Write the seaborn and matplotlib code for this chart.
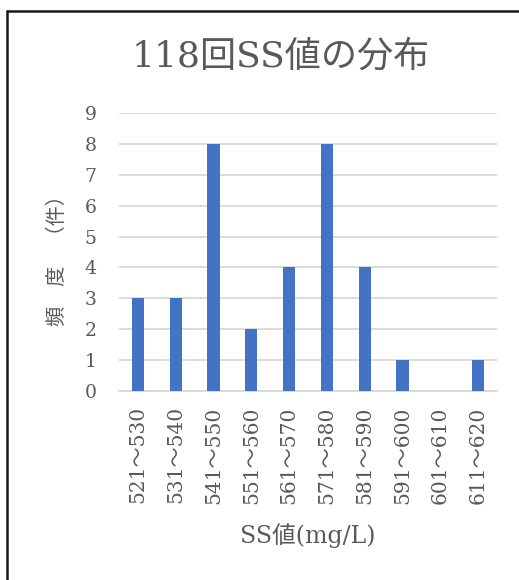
import matplotlib
matplotlib.use("Agg")
import matplotlib.pyplot as plt
from matplotlib.lines import Line2D
import seaborn as sns
import pandas as pd

# SS value ranges (mg/L) and how many samples fell into each
ranges = ["521～530", "531～540", "541～550", "551～560", "561～570",
          "571～580", "581～590", "591～600", "601～610", "611～620"]
counts = [3, 3, 8, 2, 4, 8, 4, 1, 0, 1]
y_ticks = list(range(0, 10))

title = "118回SS値の分布"
x_label = "SS値(mg/L)"
y_label = "頻　度　（件）"

sns.set_theme(style="white")
plt.rcParams["font.family"] = ["DejaVu Serif", "Noto Sans CJK JP"]

text_color = "#595959"
grid_color = "#D9D9D9"
bar_color = "#4472C4"

df = pd.DataFrame({"range": ranges, "count": counts})

fig = plt.figure(figsize=(5.19, 5.80), dpi=100)
ax = fig.add_axes([119 / 519, 1 - 391 / 580, (497 - 119) / 519, (391 - 113) / 580])

sns.barplot(data=df, x="range", y="count", color=bar_color, saturation=1,
            width=0.32, linewidth=0, ax=ax, zorder=3)

ax.set_ylim(0, 9)
ax.set_yticks(y_ticks)
ax.set_xlim(-0.5, len(ranges) - 0.5)
ax.yaxis.grid(True, color=grid_color, linewidth=1.3, zorder=0)
ax.set_axisbelow(True)
for side in ["top", "right", "left"]:
    ax.spines[side].set_visible(False)
ax.spines["bottom"].set_color(grid_color)
ax.spines["bottom"].set_linewidth(1.3)

ax.tick_params(axis="both", length=0, labelcolor=text_color)
ax.tick_params(axis="y", pad=16, labelsize=13.5)
ax.tick_params(axis="x", pad=11, labelsize=14.5)
plt.setp(ax.get_xticklabels(), rotation=90)

ax.set_xlabel("")
ax.set_ylabel("")

fig.text(281 / 519, 1 - 57 / 580, title, ha="center", va="center",
         fontsize=26, color=text_color)
fig.text(308 / 519, 1 - 536 / 580, x_label, ha="center", va="center",
         fontsize=17, color=text_color)
fig.text(57 / 519, 1 - 256 / 580, y_label, ha="center", va="center",
         rotation=90, fontsize=14.5, color=text_color)

# Chart frame (top and left edges visible within the figure)
fig.add_artist(Line2D([7 / 519, 1.0], [1 - 11 / 580, 1 - 11 / 580],
                      transform=fig.transFigure, color="#1a1a1a", linewidth=1.8))
fig.add_artist(Line2D([7 / 519, 7 / 519], [0.0, 1 - 11 / 580],
                      transform=fig.transFigure, color="#1a1a1a", linewidth=1.8))

fig.savefig("out.png", dpi=100)
